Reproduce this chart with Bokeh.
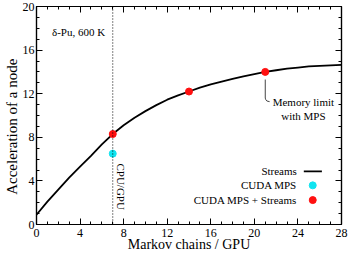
from math import pi
from bokeh.plotting import figure
from bokeh.models import Range1d, LinearAxis, Span, Label, FixedTicker
from bokeh.embed import file_html
from bokeh.resources import INLINE

# ---- data ----
chains = list(range(29))
streams = [0.9, 2.1, 3.2, 4.3, 5.3, 6.3, 7.35, 8.3, 9.1, 9.8, 10.4, 10.95,
           11.45, 11.85, 12.2, 12.55, 12.85, 13.1, 13.35, 13.6, 13.8, 14.0,
           14.15, 14.3, 14.4, 14.5, 14.55, 14.6, 14.65]
mps_x = [7]
mps_y = [6.5]
mps_streams_x = [7, 14, 21]
mps_streams_y = [8.3, 12.2, 14.0]
x_ticks = [0, 4, 8, 12, 16, 20, 24, 28]
y_ticks = [0, 4, 8, 12, 16, 20]
cpu_gpu_boundary = 7

FONT = "'Liberation Serif'"
RED = "#ff1010"
CYAN = "#10e4f0"

x_minor = [v for v in range(0, 29) if v % 4]
y_minor = [v for v in range(0, 21) if v % 4]

p = figure(width=348, height=255,
           x_range=Range1d(0, 28), y_range=Range1d(0, 20),
           output_backend="svg", toolbar_location=None,
           min_border_left=31, min_border_right=7,
           min_border_top=6, min_border_bottom=31)
p.grid.visible = False
p.outline_line_color = "black"
p.outline_line_width = 1.2
p.background_fill_color = "white"
p.border_fill_color = "white"


def style(ax, ticks, minor, labels=True):
    ax.ticker = FixedTicker(ticks=ticks, minor_ticks=minor)
    ax.major_tick_in = 6
    ax.major_tick_out = 0
    ax.minor_tick_in = 3
    ax.minor_tick_out = 0
    ax.axis_line_color = "black"
    ax.axis_line_width = 1.2
    ax.major_tick_line_color = "black"
    ax.minor_tick_line_color = "black"
    ax.major_tick_line_width = 1
    ax.minor_tick_line_width = 1
    ax.major_label_text_font = FONT
    ax.major_label_text_color = "black"
    ax.axis_label_text_font = FONT
    ax.axis_label_text_font_style = "normal"
    ax.axis_label_text_color = "black"
    if labels:
        ax.major_label_text_font_size = "12px"
    else:
        ax.major_label_overrides = {t: "" for t in ticks}
        ax.major_label_text_font_size = "0px"
        ax.major_label_standoff = 0


xa = p.xaxis[0]
ya = p.yaxis[0]
style(xa, x_ticks, x_minor)
style(ya, y_ticks, y_minor)
xa.major_label_standoff = 4
xa.axis_label = "Markov chains / GPU"
xa.axis_label_text_font_size = "14px"
xa.axis_label_standoff = -3
ya.major_label_standoff = 2
ya.axis_label = "Acceleration of a node" + "\u00a0" * 6
ya.axis_label_text_font_size = "15px"
ya.axis_label_standoff = 0

top = LinearAxis()
right = LinearAxis()
style(top, x_ticks, x_minor, labels=False)
style(right, y_ticks, y_minor, labels=False)
p.add_layout(top, "above")
p.add_layout(right, "right")

# CPU/GPU boundary
p.add_layout(Span(location=cpu_gpu_boundary, dimension="height", line_color="black",
                  line_dash="1 2", line_width=1))
p.add_layout(Label(x=cpu_gpu_boundary + 0.72, y=5.6, text="CPU/GPU", angle=-pi / 2,
                   text_align="left", text_baseline="middle", text_font=FONT,
                   text_font_size="11px", text_color="black"))

p.add_layout(Label(x=1.42, y=17.7, text="δ-Pu, 600 K", text_align="left",
                   text_baseline="middle", text_font=FONT, text_font_size="11px",
                   text_color="black"))

# data
p.line(chains, streams, line_color="black", line_width=1.8)
p.scatter(mps_x, mps_y, size=7, fill_color=CYAN, line_color=CYAN)
p.scatter(mps_streams_x, mps_streams_y, size=7, fill_color=RED, line_color=RED)

# memory-limit annotation
mx, my = mps_streams_x[2], mps_streams_y[2]
p.line([mx, mx, mx + 0.05, mx + 0.15, mx + 0.4],
       [my - 0.7, my - 2.4, my - 2.55, my - 2.67, my - 2.73],
       line_color="#444444", line_width=1)
p.add_layout(Label(x=24.5, y=11.25, text="Memory limit", text_align="center",
                   text_baseline="middle", text_font=FONT, text_font_size="11px",
                   text_color="black"))
p.add_layout(Label(x=24.5, y=9.95, text="with MPS", text_align="center",
                   text_baseline="middle", text_font=FONT, text_font_size="11px",
                   text_color="black"))

# legend (labels right-aligned, samples to the right)
LEG_TEXT_X = 23.9
LEG_SAMPLE_X = 25.36
LEG_Y = [4.88, 3.59, 2.24]
p.line([24.54, 26.2], [LEG_Y[0], LEG_Y[0]], line_color="black", line_width=1.8)
p.scatter([LEG_SAMPLE_X], [LEG_Y[1]], size=7, fill_color=CYAN, line_color=CYAN)
p.scatter([LEG_SAMPLE_X], [LEG_Y[2]], size=7, fill_color=RED, line_color=RED)
for txt, yy in zip(["Streams", "CUDA MPS", "CUDA MPS + Streams"], LEG_Y):
    p.add_layout(Label(x=LEG_TEXT_X, y=yy, text=txt, text_align="right",
                       text_baseline="middle", text_font=FONT, text_font_size="11px",
                       text_color="black"))

open("out.html", "w").write(file_html(p, INLINE))
